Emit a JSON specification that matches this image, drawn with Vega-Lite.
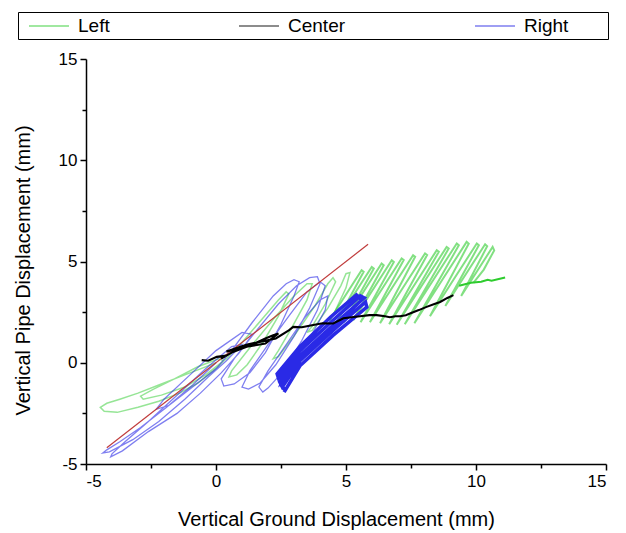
{
  "$schema": "https://vega.github.io/schema/vega-lite/v6.json",
  "autosize": "none",
  "width": 520,
  "height": 405,
  "padding": {"left": 86, "top": 59, "right": 20, "bottom": 69},
  "background": "white",
  "config": {
    "font": "Liberation Sans",
    "view": {"stroke": null},
    "axis": {
      "grid": false,
      "domainColor": "black",
      "domainWidth": 1.5,
      "tickColor": "black",
      "tickWidth": 1.5,
      "labelColor": "black",
      "labelFontSize": 17,
      "titleColor": "black",
      "titleFontSize": 20,
      "titleFontWeight": "normal"
    }
  },
  "data": {"values": [
    {"s":"Left","p":"loop","x":0.0,"y":0.0},{"s":"Left","p":"loop","x":-0.6,"y":-0.3},{"s":"Left","p":"loop","x":-1.4,"y":-0.7},{"s":"Left","p":"loop","x":-2.2,"y":-1.1},{"s":"Left","p":"loop","x":-3.0,"y":-1.5},{"s":"Left","p":"loop","x":-3.7,"y":-1.8},{"s":"Left","p":"loop","x":-4.2,"y":-2.0},{"s":"Left","p":"loop","x":-4.45,"y":-2.2},{"s":"Left","p":"loop","x":-4.3,"y":-2.4},{"s":"Left","p":"loop","x":-3.8,"y":-2.45},{"s":"Left","p":"loop","x":-3.0,"y":-2.2},{"s":"Left","p":"loop","x":-2.2,"y":-1.9},{"s":"Left","p":"loop","x":-1.4,"y":-1.5},{"s":"Left","p":"loop","x":-0.7,"y":-1.0},{"s":"Left","p":"loop","x":-0.1,"y":-0.4},{"s":"Left","p":"loop","x":0.3,"y":0.1},{"s":"Left","p":"loop","x":0.1,"y":0.2},{"s":"Left","p":"loop","x":-0.7,"y":-0.2},{"s":"Left","p":"loop","x":-1.6,"y":-0.8},{"s":"Left","p":"loop","x":-2.4,"y":-1.3},{"s":"Left","p":"loop","x":-2.9,"y":-1.65},{"s":"Left","p":"loop","x":-2.8,"y":-1.8},{"s":"Left","p":"loop","x":-2.1,"y":-1.6},{"s":"Left","p":"loop","x":-1.2,"y":-1.2},{"s":"Left","p":"loop","x":-0.4,"y":-0.6},{"s":"Left","p":"loop","x":0.4,"y":0.2},
    {"s":"Left","p":"loop","x":1.0,"y":1.0},{"s":"Left","p":"loop","x":1.8,"y":2.2},{"s":"Left","p":"loop","x":2.4,"y":3.1},{"s":"Left","p":"loop","x":2.7,"y":3.5},{"s":"Left","p":"loop","x":2.8,"y":3.4},{"s":"Left","p":"loop","x":2.4,"y":2.3},{"s":"Left","p":"loop","x":1.8,"y":1.0},{"s":"Left","p":"loop","x":1.2,"y":-0.1},{"s":"Left","p":"loop","x":0.8,"y":-0.6},{"s":"Left","p":"loop","x":0.5,"y":-0.7},{"s":"Left","p":"loop","x":0.6,"y":-0.4},{"s":"Left","p":"loop","x":1.4,"y":0.9},{"s":"Left","p":"loop","x":2.3,"y":2.3},{"s":"Left","p":"loop","x":3.0,"y":3.3},{"s":"Left","p":"loop","x":3.5,"y":3.9},{"s":"Left","p":"loop","x":3.7,"y":3.9},{"s":"Left","p":"loop","x":3.5,"y":3.1},{"s":"Left","p":"loop","x":2.9,"y":1.7},{"s":"Left","p":"loop","x":2.4,"y":0.6},{"s":"Left","p":"loop","x":2.2,"y":0.2},{"s":"Left","p":"loop","x":2.4,"y":0.3},{"s":"Left","p":"loop","x":3.1,"y":1.5},{"s":"Left","p":"loop","x":3.8,"y":2.8},{"s":"Left","p":"loop","x":4.3,"y":3.9},{"s":"Left","p":"loop","x":4.5,"y":4.2},{"s":"Left","p":"loop","x":4.6,"y":4.0},{"s":"Left","p":"loop","x":4.2,"y":2.9},{"s":"Left","p":"loop","x":3.7,"y":1.8},{"s":"Left","p":"loop","x":3.5,"y":1.5},{"s":"Left","p":"loop","x":3.7,"y":1.6},{"s":"Left","p":"loop","x":4.3,"y":2.7},{"s":"Left","p":"loop","x":4.8,"y":3.8},{"s":"Left","p":"loop","x":5.0,"y":4.4},{"s":"Left","p":"loop","x":5.15,"y":4.45},{"s":"Left","p":"loop","x":5.0,"y":3.7},{"s":"Left","p":"loop","x":4.6,"y":2.6},{"s":"Left","p":"loop","x":4.4,"y":2.1},
    {"s":"Left","p":"hatch","x":4.34,"y":2.05},{"s":"Left","p":"hatch","x":5.6,"y":4.57},{"s":"Left","p":"hatch","x":5.68,"y":4.49},{"s":"Left","p":"hatch","x":4.67,"y":2.1},{"s":"Left","p":"hatch","x":5.99,"y":4.73},{"s":"Left","p":"hatch","x":6.07,"y":4.65},{"s":"Left","p":"hatch","x":4.92,"y":2.0},{"s":"Left","p":"hatch","x":6.37,"y":4.9},{"s":"Left","p":"hatch","x":6.45,"y":4.82},{"s":"Left","p":"hatch","x":5.28,"y":2.1},{"s":"Left","p":"hatch","x":6.76,"y":5.06},{"s":"Left","p":"hatch","x":6.84,"y":4.98},{"s":"Left","p":"hatch","x":5.56,"y":2.0},{"s":"Left","p":"hatch","x":7.14,"y":5.15},{"s":"Left","p":"hatch","x":7.22,"y":5.07},{"s":"Left","p":"hatch","x":5.92,"y":2.0},{"s":"Left","p":"hatch","x":7.58,"y":5.31},{"s":"Left","p":"hatch","x":7.66,"y":5.23},{"s":"Left","p":"hatch","x":6.31,"y":1.95},{"s":"Left","p":"hatch","x":8.04,"y":5.4},{"s":"Left","p":"hatch","x":8.12,"y":5.32},{"s":"Left","p":"hatch","x":6.66,"y":1.9},{"s":"Left","p":"hatch","x":8.49,"y":5.56},{"s":"Left","p":"hatch","x":8.57,"y":5.48},{"s":"Left","p":"hatch","x":6.95,"y":1.88},{"s":"Left","p":"hatch","x":8.87,"y":5.72},{"s":"Left","p":"hatch","x":8.95,"y":5.64},{"s":"Left","p":"hatch","x":7.26,"y":1.9},{"s":"Left","p":"hatch","x":9.26,"y":5.89},{"s":"Left","p":"hatch","x":9.34,"y":5.8},{"s":"Left","p":"hatch","x":7.63,"y":1.95},{"s":"Left","p":"hatch","x":9.64,"y":5.97},{"s":"Left","p":"hatch","x":9.72,"y":5.88},{"s":"Left","p":"hatch","x":8.23,"y":2.3},{"s":"Left","p":"hatch","x":10.03,"y":5.89},{"s":"Left","p":"hatch","x":10.11,"y":5.8},{"s":"Left","p":"hatch","x":8.82,"y":2.8},{"s":"Left","p":"hatch","x":10.35,"y":5.85},{"s":"Left","p":"hatch","x":10.43,"y":5.75},{"s":"Left","p":"hatch","x":9.43,"y":3.3},{"s":"Left","p":"hatch","x":10.64,"y":5.72},{"s":"Left","p":"hatch","x":10.7,"y":5.55},{"s":"Left","p":"hatch","x":10.3,"y":4.6},{"s":"Left","p":"hatch","x":9.9,"y":3.95},
    {"s":"Left","p":"tail","x":9.35,"y":3.8},{"s":"Left","p":"tail","x":9.8,"y":3.95},{"s":"Left","p":"tail","x":10.2,"y":4.0},{"s":"Left","p":"tail","x":10.45,"y":4.1},{"s":"Left","p":"tail","x":10.6,"y":4.05},{"s":"Left","p":"tail","x":11.12,"y":4.21},
    {"s":"Right","p":"loop","x":0.0,"y":0.0},{"s":"Right","p":"loop","x":-0.9,"y":-1.1},{"s":"Right","p":"loop","x":-1.9,"y":-2.2},{"s":"Right","p":"loop","x":-2.9,"y":-3.2},{"s":"Right","p":"loop","x":-3.7,"y":-3.9},{"s":"Right","p":"loop","x":-4.2,"y":-4.3},{"s":"Right","p":"loop","x":-4.35,"y":-4.45},{"s":"Right","p":"loop","x":-4.1,"y":-4.4},{"s":"Right","p":"loop","x":-3.2,"y":-3.8},{"s":"Right","p":"loop","x":-2.2,"y":-2.9},{"s":"Right","p":"loop","x":-1.2,"y":-1.8},{"s":"Right","p":"loop","x":-0.3,"y":-0.7},{"s":"Right","p":"loop","x":0.4,"y":0.1},{"s":"Right","p":"loop","x":1.0,"y":0.9},{"s":"Right","p":"loop","x":0.6,"y":0.8},{"s":"Right","p":"loop","x":-0.4,"y":-0.3},{"s":"Right","p":"loop","x":-1.5,"y":-1.6},{"s":"Right","p":"loop","x":-2.6,"y":-2.9},{"s":"Right","p":"loop","x":-3.5,"y":-3.9},{"s":"Right","p":"loop","x":-4.0,"y":-4.5},{"s":"Right","p":"loop","x":-4.05,"y":-4.65},{"s":"Right","p":"loop","x":-3.6,"y":-4.35},{"s":"Right","p":"loop","x":-2.6,"y":-3.4},{"s":"Right","p":"loop","x":-1.5,"y":-2.5},{"s":"Right","p":"loop","x":-0.6,"y":-1.5},{"s":"Right","p":"loop","x":0.2,"y":-0.5},{"s":"Right","p":"loop","x":0.9,"y":0.5},{"s":"Right","p":"loop","x":1.4,"y":1.4},{"s":"Right","p":"loop","x":1.0,"y":1.5},{"s":"Right","p":"loop","x":0.0,"y":0.6},{"s":"Right","p":"loop","x":-1.0,"y":-0.6},{"s":"Right","p":"loop","x":-2.0,"y":-1.8},{"s":"Right","p":"loop","x":-2.3,"y":-2.3},{"s":"Right","p":"loop","x":-1.8,"y":-2.1},{"s":"Right","p":"loop","x":-0.9,"y":-1.2},{"s":"Right","p":"loop","x":0.0,"y":-0.3},
    {"s":"Right","p":"loop","x":0.6,"y":0.6},{"s":"Right","p":"loop","x":1.4,"y":2.0},{"s":"Right","p":"loop","x":2.2,"y":3.3},{"s":"Right","p":"loop","x":2.7,"y":3.9},{"s":"Right","p":"loop","x":3.0,"y":4.1},{"s":"Right","p":"loop","x":3.2,"y":4.0},{"s":"Right","p":"loop","x":3.0,"y":3.3},{"s":"Right","p":"loop","x":2.5,"y":1.9},{"s":"Right","p":"loop","x":1.9,"y":0.5},{"s":"Right","p":"loop","x":1.3,"y":-0.5},{"s":"Right","p":"loop","x":0.7,"y":-1.05},{"s":"Right","p":"loop","x":0.3,"y":-1.15},{"s":"Right","p":"loop","x":0.2,"y":-0.8},{"s":"Right","p":"loop","x":0.7,"y":0.2},{"s":"Right","p":"loop","x":1.5,"y":1.5},{"s":"Right","p":"loop","x":2.4,"y":2.9},{"s":"Right","p":"loop","x":3.1,"y":3.8},{"s":"Right","p":"loop","x":3.6,"y":4.2},{"s":"Right","p":"loop","x":3.9,"y":4.25},{"s":"Right","p":"loop","x":4.0,"y":3.9},{"s":"Right","p":"loop","x":3.6,"y":2.7},{"s":"Right","p":"loop","x":3.0,"y":1.3},{"s":"Right","p":"loop","x":2.3,"y":-0.1},{"s":"Right","p":"loop","x":1.7,"y":-1.0},{"s":"Right","p":"loop","x":1.25,"y":-1.3},{"s":"Right","p":"loop","x":1.0,"y":-1.2},{"s":"Right","p":"loop","x":1.3,"y":-0.4},{"s":"Right","p":"loop","x":2.0,"y":0.9},{"s":"Right","p":"loop","x":2.8,"y":2.3},{"s":"Right","p":"loop","x":3.5,"y":3.5},{"s":"Right","p":"loop","x":4.0,"y":4.0},{"s":"Right","p":"loop","x":4.2,"y":3.8},{"s":"Right","p":"loop","x":3.9,"y":2.6},{"s":"Right","p":"loop","x":3.3,"y":1.1},{"s":"Right","p":"loop","x":2.6,"y":-0.4},{"s":"Right","p":"loop","x":2.0,"y":-1.25},{"s":"Right","p":"loop","x":1.8,"y":-1.45},{"s":"Right","p":"loop","x":1.65,"y":-1.2},{"s":"Right","p":"loop","x":2.0,"y":-0.4},{"s":"Right","p":"loop","x":2.7,"y":0.9},{"s":"Right","p":"loop","x":3.4,"y":2.2},{"s":"Right","p":"loop","x":4.0,"y":3.1},{"s":"Right","p":"loop","x":4.3,"y":3.3},{"s":"Right","p":"loop","x":4.2,"y":2.6},{"s":"Right","p":"loop","x":3.6,"y":1.2},{"s":"Right","p":"loop","x":3.0,"y":-0.1},{"s":"Right","p":"loop","x":2.5,"y":-1.0},{"s":"Right","p":"loop","x":2.4,"y":-1.2},
    {"s":"Right","p":"band","x":2.62,"y":-1.45},{"s":"Right","p":"band","x":3.23,"y":-0.15},{"s":"Right","p":"band","x":4.5,"y":1.35},{"s":"Right","p":"band","x":5.8,"y":2.75},{"s":"Right","p":"band","x":5.75,"y":3.0},{"s":"Right","p":"band","x":4.5,"y":1.6},{"s":"Right","p":"band","x":3.23,"y":0.1},{"s":"Right","p":"band","x":2.55,"y":-1.2},{"s":"Right","p":"band","x":2.45,"y":-0.95},{"s":"Right","p":"band","x":3.23,"y":0.35},{"s":"Right","p":"band","x":4.5,"y":1.85},{"s":"Right","p":"band","x":5.7,"y":3.2},{"s":"Right","p":"band","x":5.55,"y":3.3},{"s":"Right","p":"band","x":4.5,"y":2.1},{"s":"Right","p":"band","x":3.23,"y":0.6},{"s":"Right","p":"band","x":2.4,"y":-0.75},{"s":"Right","p":"band","x":2.35,"y":-0.55},{"s":"Right","p":"band","x":3.23,"y":0.8},{"s":"Right","p":"band","x":4.4,"y":2.25},{"s":"Right","p":"band","x":5.4,"y":3.35},{"s":"Right","p":"band","x":5.6,"y":3.1},{"s":"Right","p":"band","x":4.5,"y":1.75},{"s":"Right","p":"band","x":3.23,"y":0.25},{"s":"Right","p":"band","x":2.5,"y":-1.1},{"s":"Right","p":"band","x":2.7,"y":-1.4},
    {"s":"Center","p":"line","x":-0.55,"y":0.13},{"s":"Center","p":"line","x":-0.3,"y":0.1},{"s":"Center","p":"line","x":0.03,"y":0.29},{"s":"Center","p":"line","x":0.4,"y":0.35},{"s":"Center","p":"line","x":0.2,"y":0.2},{"s":"Center","p":"line","x":0.6,"y":0.5},{"s":"Center","p":"line","x":1.18,"y":0.79},{"s":"Center","p":"line","x":1.6,"y":1.0},{"s":"Center","p":"line","x":1.4,"y":0.9},{"s":"Center","p":"line","x":1.9,"y":1.2},{"s":"Center","p":"line","x":2.2,"y":1.36},{"s":"Center","p":"line","x":2.4,"y":1.45},{"s":"Center","p":"line","x":1.9,"y":0.95},{"s":"Center","p":"line","x":1.0,"y":0.75},{"s":"Center","p":"line","x":0.4,"y":0.55},{"s":"Center","p":"line","x":1.2,"y":0.9},{"s":"Center","p":"line","x":2.3,"y":1.2},{"s":"Center","p":"line","x":2.8,"y":1.6},{"s":"Center","p":"line","x":2.97,"y":1.77},{"s":"Center","p":"line","x":3.3,"y":1.75},{"s":"Center","p":"line","x":3.74,"y":1.86},{"s":"Center","p":"line","x":4.1,"y":1.95},{"s":"Center","p":"line","x":4.51,"y":1.94},{"s":"Center","p":"line","x":4.9,"y":2.2},{"s":"Center","p":"line","x":5.54,"y":2.3},{"s":"Center","p":"line","x":5.9,"y":2.35},{"s":"Center","p":"line","x":6.18,"y":2.35},{"s":"Center","p":"line","x":6.5,"y":2.3},{"s":"Center","p":"line","x":6.69,"y":2.25},{"s":"Center","p":"line","x":6.9,"y":2.3},{"s":"Center","p":"line","x":7.08,"y":2.3},{"s":"Center","p":"line","x":7.3,"y":2.35},{"s":"Center","p":"line","x":7.46,"y":2.43},{"s":"Center","p":"line","x":7.8,"y":2.6},{"s":"Center","p":"line","x":8.1,"y":2.76},{"s":"Center","p":"line","x":8.4,"y":2.9},{"s":"Center","p":"line","x":8.62,"y":3.0},{"s":"Center","p":"line","x":8.9,"y":3.2},{"s":"Center","p":"line","x":9.13,"y":3.34}
  ]},
  "encoding": {
    "x": {
      "field": "x", "type": "quantitative",
      "scale": {"domain": [-5, 15], "nice": false, "zero": false},
      "axis": {
        "title": "Vertical Ground Displacement (mm)",
        "values": [-5, -2.5, 0, 2.5, 5, 7.5, 10, 12.5, 15],
        "labelExpr": "datum.value % 5 === 0 ? '' + datum.value : ''",
        "tickSize": {"condition": {"test": "datum.value % 5 === 0", "value": 6}, "value": 4},
        "labelPadding": 3,
        "titlePadding": 20,
        "titleX": 250
      }
    },
    "y": {
      "field": "y", "type": "quantitative",
      "scale": {"domain": [-5, 15], "nice": false, "zero": false},
      "axis": {
        "title": "Vertical Pipe Displacement (mm)",
        "values": [-5, -2.5, 0, 2.5, 5, 7.5, 10, 12.5, 15],
        "labelExpr": "datum.value % 5 === 0 ? '' + datum.value : ''",
        "tickSize": {"condition": {"test": "datum.value % 5 === 0", "value": 6}, "value": 4},
        "labelPadding": 3,
        "titlePadding": 25,
        "titleY": 211
      }
    },
    "order": {"value": null}
  },
  "layer": [
    {
      "transform": [{"filter": "datum.s === 'Left' && datum.p === 'loop'"}],
      "mark": {"type": "line", "opacity": 0.5, "strokeWidth": 1.5},
      "encoding": {
        "color": {
          "field": "s", "type": "nominal",
          "scale": {"domain": ["Left", "Center", "Right"], "range": ["#2ecc2e", "#000000", "#2a2ae6"]},
          "legend": {
            "orient": "none", "legendX": -68, "legendY": -47,
            "direction": "horizontal",
            "title": " ", "titleOrient": "right", "titleFontSize": 1, "titlePadding": 37,
            "symbolType": "M-2,0H2", "symbolSize": 400, "symbolStrokeWidth": 1.5,
            "symbolOffset": 17, "labelOffset": 18,
            "symbolOpacity": 0.5,
            "labelFontSize": 19, "labelColor": "black",
            "columnPadding": 121, "padding": 3,
            "strokeColor": "black"
          }
        }
      }
    },
    {
      "transform": [{"filter": "datum.s === 'Left' && datum.p === 'hatch'"}],
      "mark": {"type": "line", "opacity": 0.6, "strokeWidth": 2},
      "encoding": {"color": {"field": "s", "type": "nominal"}}
    },
    {
      "transform": [{"filter": "datum.s === 'Left' && datum.p === 'tail'"}],
      "mark": {"type": "line", "opacity": 1, "strokeWidth": 2},
      "encoding": {"color": {"field": "s", "type": "nominal"}}
    },
    {
      "transform": [{"filter": "datum.s === 'Right' && datum.p === 'loop'"}],
      "mark": {"type": "line", "opacity": 0.6, "strokeWidth": 1.3},
      "encoding": {"color": {"field": "s", "type": "nominal"}}
    },
    {
      "transform": [{"filter": "datum.s === 'Right' && datum.p === 'band'"}],
      "mark": {"type": "line", "opacity": 1, "strokeWidth": 3.5},
      "encoding": {"color": {"field": "s", "type": "nominal"}}
    },
    {
      "data": {"values": [{"x": -4.2, "y": -4.2}, {"x": 5.85, "y": 5.85}]},
      "mark": {"type": "line", "color": "#c03c3c", "strokeWidth": 1.2},
      "encoding": {}
    },
    {
      "transform": [{"filter": "datum.s === 'Center'"}],
      "mark": {"type": "line", "opacity": 1, "strokeWidth": 2.1},
      "encoding": {"color": {"field": "s", "type": "nominal"}}
    }
  ]
}
